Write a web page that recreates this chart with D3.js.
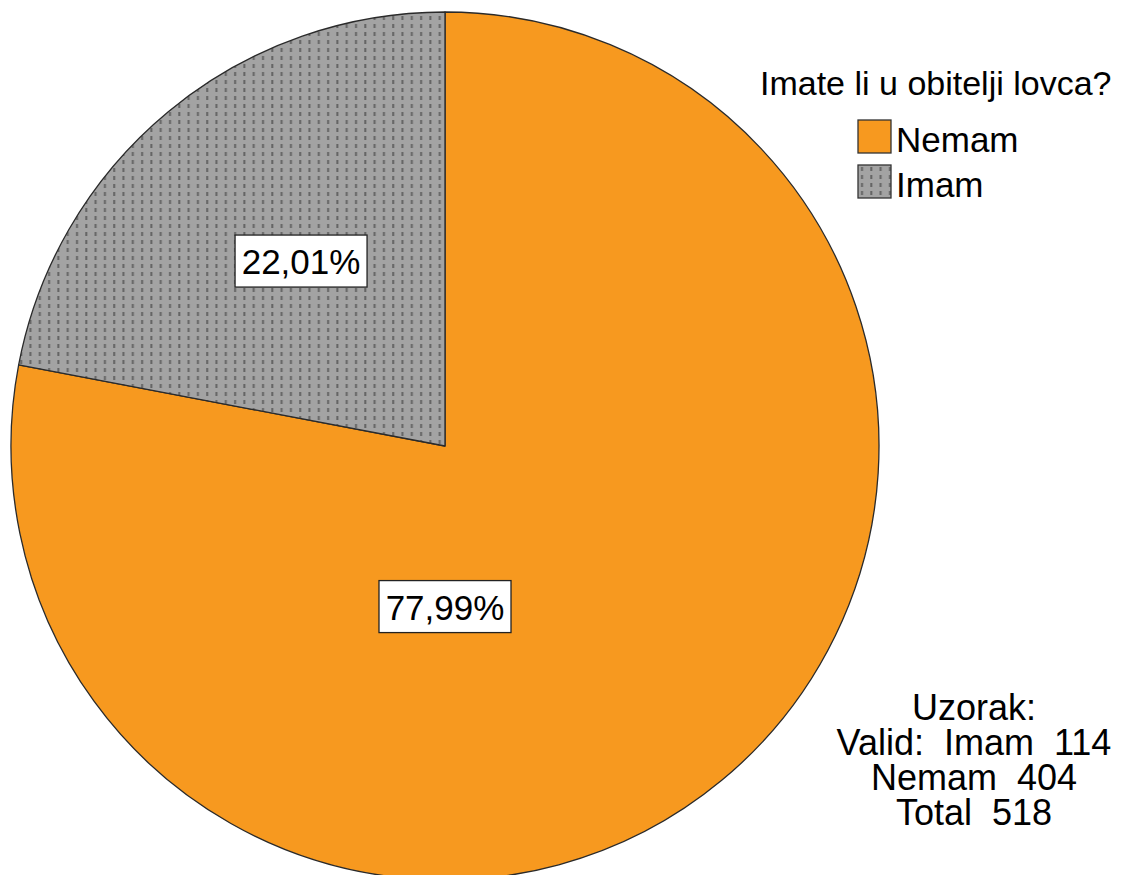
<!DOCTYPE html>
<html>
<head>
<meta charset="utf-8">
<script src="https://cdn.jsdelivr.net/npm/d3@7"></script>
<style>
  body { margin: 0; background: #fff; }
  text { font-family: "Liberation Sans", Arial, sans-serif; fill: #000; }
</style>
</head>
<body>
<div id="chart"></div>
<script>
// data
var categories = ["Nemam", "Imam"];
var counts = [404, 114];
var percentLabels = ["77,99%", "22,01%"];
var legendTitle = "Imate li u obitelji lovca?";
var sampleLines = ["Uzorak:", "Valid:  Imam  114", "Nemam  404", "Total  518"];

var width = 1126,
    height = 875,
    cx = 445, cy = 446,
    radius = 434;

var svg = d3.select("#chart").append("svg")
    .attr("width", width)
    .attr("height", height);

var defs = svg.append("defs");
var pat = defs.append("pattern")
    .attr("id", "dots")
    .attr("patternUnits", "userSpaceOnUse")
    .attr("width", 9.3)
    .attr("height", 8);
pat.append("rect").attr("width", 9.3).attr("height", 8).attr("fill", "#a3a3a3");
pat.append("rect").attr("x", 3).attr("y", 2).attr("width", 2).attr("height", 4).attr("fill", "#646464");

var fill = d3.scaleOrdinal()
    .domain(categories)
    .range(["#f7991f", "url(#dots)"]);

var pie = d3.pie()
    .sort(null)
    .value(function(d) { return d; });

var arcs = pie(counts);

var arc = d3.arc()
    .innerRadius(0)
    .outerRadius(radius);

var g = svg.append("g")
    .attr("transform", "translate(" + cx + "," + cy + ")");

g.selectAll(".slice")
    .data(arcs)
  .enter().append("path")
    .attr("class", "slice")
    .attr("d", arc)
    .attr("fill", function(d, i) { return fill(categories[i]); })
    .attr("stroke", "#2a2a2a")
    .attr("stroke-width", 1.3)
    .attr("stroke-linejoin", "round");

// label anchors: small slice near its centroid, big one straight down
function labelPos(d) {
  var span = d.endAngle - d.startAngle;
  if (span > Math.PI) return [0, radius * 0.37];
  var a = (d.startAngle + d.endAngle) / 2 + 0.03;
  var r = radius * 0.54;
  return [Math.sin(a) * r, -Math.cos(a) * r];
}

var labels = g.selectAll(".pct")
    .data(arcs)
  .enter().append("g")
    .attr("class", "pct")
    .attr("transform", function(d) {
      var p = labelPos(d);
      return "translate(" + p[0] + "," + p[1] + ")";
    });

labels.append("rect")
    .attr("x", -66)
    .attr("y", -26)
    .attr("width", 132)
    .attr("height", 52)
    .attr("fill", "#fff")
    .attr("stroke", "#222")
    .attr("stroke-width", 1.3);

labels.append("text")
    .attr("text-anchor", "middle")
    .attr("y", 13)
    .style("font-size", "35px")
    .text(function(d, i) { return percentLabels[i]; });

// legend
var legend = svg.append("g").attr("class", "legend");

legend.append("text")
    .attr("x", 760)
    .attr("y", 95)
    .style("font-size", "34px")
    .text(legendTitle);

var items = legend.selectAll(".item")
    .data(categories)
  .enter().append("g")
    .attr("class", "item")
    .attr("transform", function(d, i) { return "translate(858," + (120 + i * 45) + ")"; });

items.append("rect")
    .attr("width", 33)
    .attr("height", 33)
    .attr("fill", function(d) { return fill(d); })
    .attr("stroke", "#333")
    .attr("stroke-width", 1.3);

items.append("text")
    .attr("x", 38)
    .attr("y", 32)
    .style("font-size", "35px")
    .text(function(d) { return d; });

// sample note
svg.append("g").selectAll("text")
    .data(sampleLines)
  .enter().append("text")
    .attr("x", 974)
    .attr("y", function(d, i) { return 720 + i * 35; })
    .attr("text-anchor", "middle")
    .style("font-size", "36px")
    .style("white-space", "pre")
    .attr("xml:space", "preserve")
    .text(function(d) { return d; });
</script>
</body>
</html>
